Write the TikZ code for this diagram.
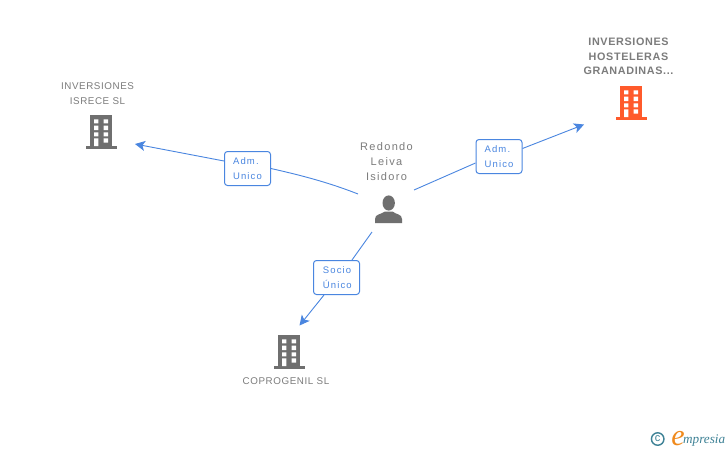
\documentclass[tikz,border=0pt]{standalone}
\usepackage{fontspec}
\setmainfont{Liberation Sans}
\newfontfamily\spaced[LetterSpace=6]{Liberation Sans}
\newfontfamily\wide[LetterSpace=12]{Liberation Sans}
\newfontfamily\logofont{Liberation Serif}
\usetikzlibrary{arrows.meta}
\definecolor{txtgray}{HTML}{7C7C7C}
\definecolor{icongray}{HTML}{6F6F6F}
\definecolor{linkblue}{HTML}{4A86E0}
\definecolor{hotorange}{HTML}{FF5A2B}
\definecolor{logoteal}{HTML}{3E8296}
\definecolor{logoorange}{HTML}{F08A1D}
\tikzset{
  x=1pt,y=-1pt,
  caption/.style={text=txtgray,font=\fontsize{9.8}{14.6}\selectfont\spaced,align=center,inner sep=0pt},
  boldcaption/.style={caption,font=\fontsize{10.8}{14.6}\selectfont\spaced\bfseries},
  rolebox/.style={draw=linkblue,fill=white,line width=1pt,rounded corners=3pt,text=linkblue,
    font=\fontsize{9.5}{15}\selectfont\wide,align=left,minimum width=46pt,minimum height=34pt,inner sep=0pt},
  link/.style={draw=linkblue,line width=0.9pt},
  linkarrow/.style={link,-{Stealth[length=10pt,width=10pt,inset=2.5pt]}},
  pics/tower/.style={code={
    \fill[#1] (-11,0) rectangle (11,32);
    \fill[#1] (-15.5,31) rectangle (15.5,34);
    \fill[white] (-7,4.3) rectangle (-2.7,8.3) (2.7,4.3) rectangle (7,8.3)
      (-7,10.7) rectangle (-2.7,15) (2.7,10.7) rectangle (7,15)
      (-7,17.3) rectangle (-2.7,21.3) (2.7,17.3) rectangle (7,21.3)
      (2.7,23.3) rectangle (7,27.7) (-7,23.3) rectangle (-2.7,31);
  }}
}
\begin{document}
\begin{tikzpicture}
\useasboundingbox (0,0) rectangle (728,450);
\fill[white] (0,0) rectangle (728,450);

% buildings
\pic at (101,115) {tower=icongray};
\pic at (631,86) {tower=hotorange};
\pic at (289,335) {tower=icongray};

% person
\fill[icongray] (388.7,203) ellipse (6.2 and 7.6);
\fill[icongray] (375,223) -- (375,219) .. controls (375,214) and (381,214.5) .. (385,211.5)
  -- (392.5,211.5) .. controls (396,214.5) and (402,214) .. (402,219) -- (402,223) -- cycle;

% captions
\node[caption] (isrece) at (97.5,93.5) {INVERSIONES\\ISRECE SL};
\node[boldcaption] (hostel) at (628.5,56.5) {INVERSIONES\\HOSTELERAS\\GRANADINAS...};
\node[caption] (copro) at (286,381) {COPROGENIL SL};
\node[caption,font=\fontsize{11}{15}\selectfont\wide] (redondo) at (386.5,162) {Redondo\\Leiva\\Isidoro};

% connector ends
\coordinate (pl) at (358,194);
\coordinate (pr) at (414,190);
\coordinate (pd) at (372,232);
\coordinate (tl) at (135,144);
\coordinate (tr) at (584,124.5);
\coordinate (td) at (299.5,325.5);

% role boxes
\node[rolebox] (adm1) at (247.5,168.5) {Adm.\\Unico};
\node[rolebox] (adm2) at (499,156.5) {Adm.\\Unico};
\node[rolebox] (socio) at (336.5,277.5) {\,Socio\\\,Único};

% connectors
\draw[link] (pl) .. controls (325,181) and (295,174) .. (adm1.east);
\draw[linkarrow] ([yshift=7.5pt]adm1.west) -- (tl);
\draw[link] (pr) -- ([yshift=-6.5pt]adm2.west);
\draw[linkarrow] ([yshift=8pt]adm2.east) -- (tr);
\draw[link] (pd) -- ([xshift=15.5pt]socio.north);
\draw[linkarrow] ([xshift=-12.5pt]socio.south) -- (td);

% logo
\node[draw=logoteal,line width=1.4pt,circle,minimum size=12.5pt,inner sep=0pt,text=logoteal,font=\fontsize{11}{11}\selectfont] (copy) at (657.7,439) {c};
\node[text=logoorange,font=\logofont\itshape\fontsize{30}{30}\selectfont,inner sep=0pt,anchor=base] (elogo) at (678,445) {e};
\node[text=logoteal,font=\logofont\itshape\fontsize{13.2}{14}\selectfont,inner sep=0pt,anchor=base west] (mpresia) at (683,443) {mpresia};
\end{tikzpicture}
\end{document}
